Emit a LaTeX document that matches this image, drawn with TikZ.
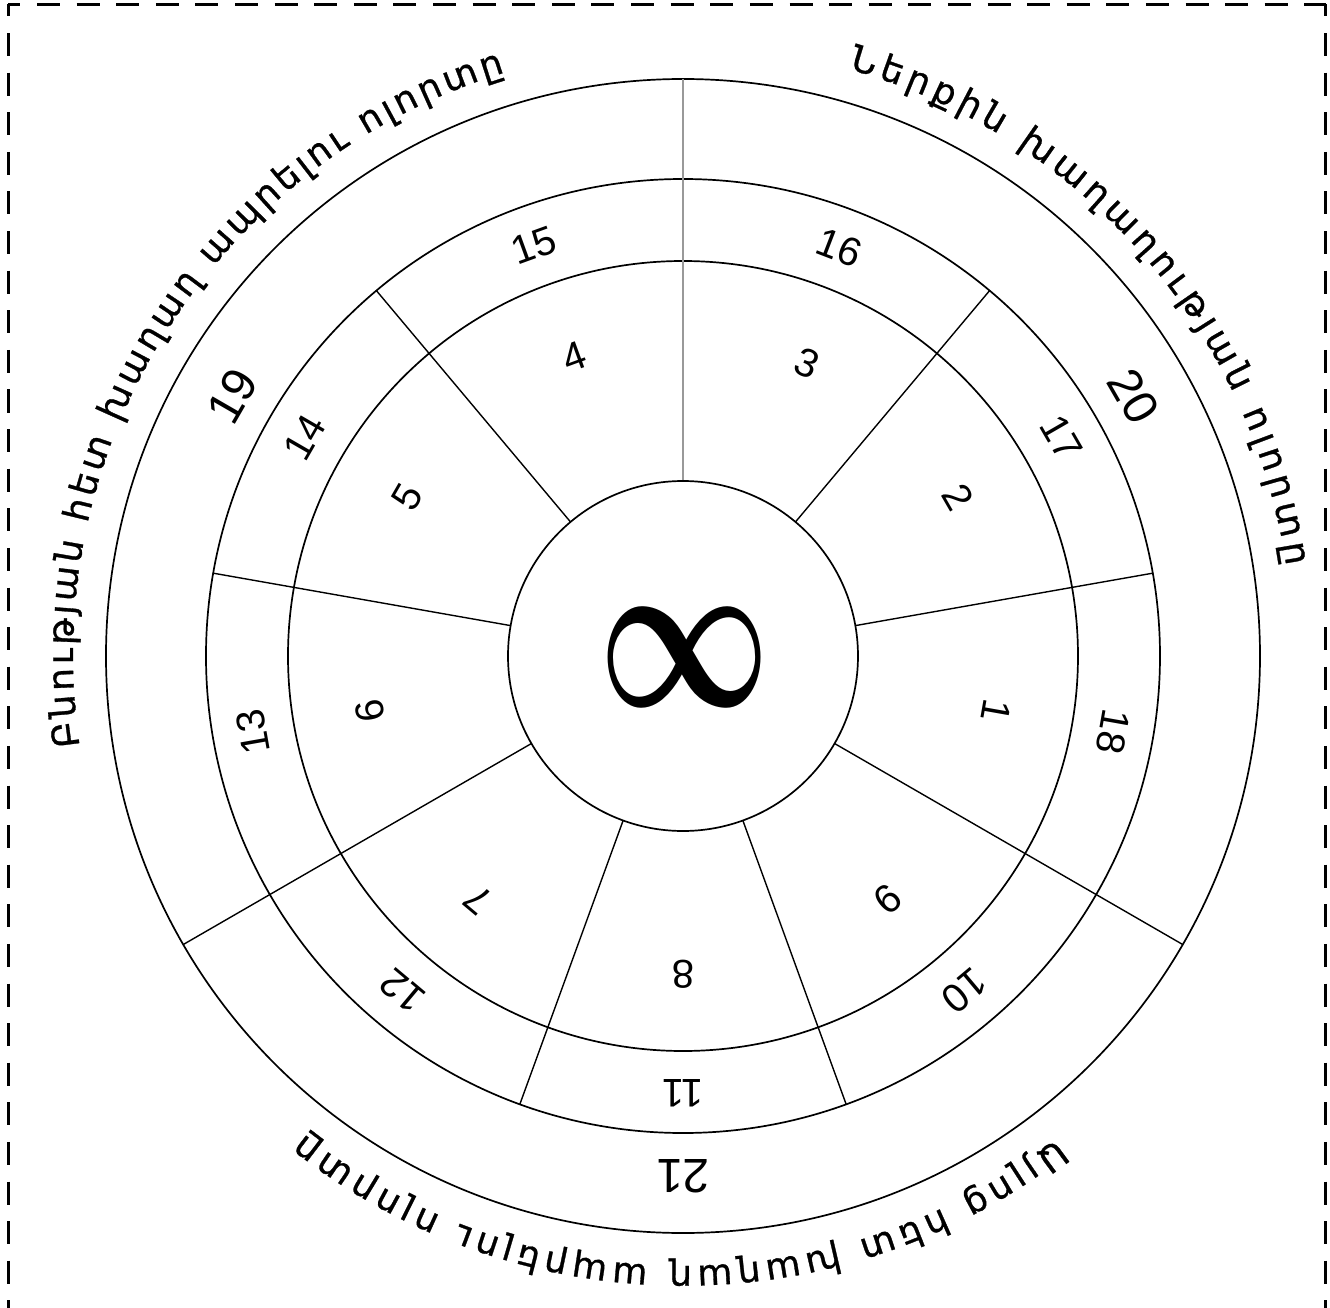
\documentclass[tikz,border=0pt]{standalone}
\usepackage{fontspec}
\setmainfont{DejaVu Sans}
\newfontfamily\armfont[FakeBold=0.8]{DejaVu Sans}
\newfontfamily\numfont{Liberation Sans}
\usetikzlibrary{decorations.text}
\newcommand{\armsize}{\armfont\fontsize{36}{40}\selectfont}
\begin{document}
\begin{tikzpicture}[x=1pt,y=1pt,
  ringline/.style={line width=1.7pt},
  spoke/.style={line width=1.4pt},
  axisline/.style={line width=1.4pt, gray!80},
  border/.style={line width=3pt, dash pattern=on 23pt off 16.6pt, dash phase=11pt},
  num/.style={font=\numfont\fontsize{40}{40}\selectfont, inner sep=0pt},
  bignum/.style={font=\numfont\fontsize{48}{48}\selectfont, inner sep=0pt},
  armtext/.style={decorate, decoration={text along path, text align={fit to path}, text={|\armsize|#1}}}
]
\useasboundingbox (-683,-651) rectangle (647,656);
\clip (-683,-651) rectangle (647,656);

% dashed frame
\coordinate (tl) at (-674.5,651.5);
\coordinate (tr) at (642.5,651.5);
\coordinate (bl) at (-674.5,-700);
\coordinate (br) at (642.5,-700);
\draw[border] (tl) -- (tr);
\draw[border] (tl) -- (bl);
\draw[border] (tr) -- (br);

% rings
\draw[ringline] (0,0) circle[radius=395];
\draw[ringline] (0,0) circle[radius=477];
\draw[ringline] (0,0) circle[radius=577];

% spokes
\foreach \a in {50,10,130,170,-70,250}
  \draw[spoke] (\a:175) -- (\a:477);
\foreach \a in {-30,210}
  \draw[spoke] (\a:175) -- (\a:577);
\draw[axisline] (90:175) -- (90:577);

% centre
\node[circle, draw, ringline, minimum size=350pt, inner sep=0pt] (core) at (0,0) {};
\node (inf) at (2,-1) {\resizebox{172pt}{98pt}{\boldmath$\infty$}};

% inner ring numbers
\foreach \n/\a in {1/-10,2/30,3/67,4/110,5/150,6/190,7/230,8/270,9/310}
  \node[num, rotate=\a-90] (n\n) at (\a:318) {\n};
% middle ring numbers
\foreach \n/\a in {10/310,11/270,12/230,13/190,14/150,15/110,16/69,17/30,18/-10}
  \node[num, rotate=\a-90] (n\n) at (\a:437) {\n};
% outer ring numbers
\foreach \n/\a in {19/150,20/30,21/270}
  \node[bignum, rotate=\a-90] (n\n) at (\a:520) {\n};

% arc labels
\path[armtext={Բնության հետ խաղաղ ապրելու ոլորտը}]
  (188.5:610) arc[start angle=188.5, end angle=107, radius=610];
\path[armtext={Ներքին խաղաղության ոլորտը}]
  (74.3:610) arc[start angle=74.3, end angle=8.5, radius=610];
\path[armtext={Այլոց հետ խաղաղ ապրելու ոլորտը}]
  (307.7:610) arc[start angle=307.7, end angle=231.6, radius=610];
\end{tikzpicture}
\end{document}
